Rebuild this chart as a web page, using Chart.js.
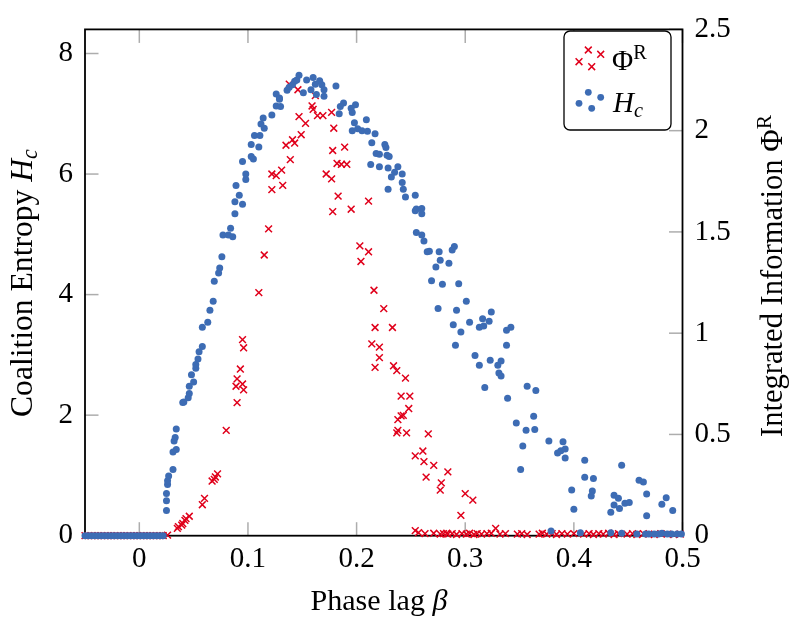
<!DOCTYPE html>
<html><head><meta charset="utf-8">
<script src="https://cdn.jsdelivr.net/npm/chart.js@4"></script>
<style>html,body{margin:0;padding:0;background:#fff}#wrap{width:800px;height:630px}</style>
</head><body><div id="wrap"><canvas id="c" width="800" height="630"></canvas></div>
<script>
// ---------- data ----------
const xTicks = [0, 0.1, 0.2, 0.3, 0.4, 0.5];
const hcTicks = [0, 2, 4, 6, 8];
const phiTicks = [0, 0.5, 1, 1.5, 2, 2.5];

// Coalition entropy H_c  [beta, value]
const hcPoints = [
 [-0.05,0],[-0.047,0],[-0.044,0],[-0.041,0],[-0.038,0],[-0.035,0],[-0.032,0],[-0.029,0],[-0.026,0],[-0.023,0],
 [-0.02,0],[-0.017,0],[-0.014,0],[-0.011,0],[-0.008,0],[-0.005,0],[-0.002,0],[0.001,0],[0.004,0],[0.007,0],
 [0.01,0],[0.013,0],[0.016,0],[0.019,0],[0.022,0],
 [0.025,0.42],[0.025,0.58],[0.025,0.70],[0.026,0.85],[0.026,0.91],[0.027,0.99],[0.031,1.10],[0.031,1.39],
 [0.034,1.43],[0.032,1.57],[0.033,1.63],[0.034,1.77],[0.040,2.21],[0.041,2.22],[0.045,2.29],[0.046,2.36],
 [0.046,2.48],[0.050,2.55],[0.048,2.67],[0.052,2.78],[0.052,2.84],[0.054,2.93],[0.055,3.05],[0.058,3.14],
 [0.058,3.46],[0.063,3.54],[0.065,3.74],[0.068,3.89],[0.069,4.22],[0.073,4.36],[0.074,4.44],[0.076,4.63],
 [0.077,4.99],[0.082,4.99],[0.086,4.96],[0.084,5.10],[0.088,5.34],[0.095,5.50],[0.088,5.54],[0.092,5.65],
 [0.089,5.81],[0.098,5.91],[0.098,6.00],[0.095,6.21],[0.105,6.25],[0.103,6.29],[0.110,6.45],[0.103,6.49],
 [0.106,6.64],[0.111,6.64],[0.115,6.76],[0.112,6.83],[0.114,6.93],[0.122,6.98],[0.126,7.13],[0.129,7.24],
 [0.126,7.33],[0.129,7.26],[0.130,7.12],[0.136,7.39],[0.138,7.44],[0.141,7.48],[0.143,7.54],[0.145,7.56],
 [0.147,7.64],[0.151,7.35],[0.154,7.56],[0.158,7.40],[0.160,7.60],[0.162,7.49],[0.163,7.32],[0.166,7.55],
 [0.168,7.48],[0.170,7.40],[0.170,7.29],[0.181,7.46],[0.188,7.18],[0.185,7.12],[0.184,7.00],[0.199,7.15],
 [0.195,7.09],[0.196,7.02],[0.198,6.85],[0.209,6.90],[0.196,6.72],[0.201,6.75],[0.205,6.72],[0.210,6.71],
 [0.217,6.67],[0.214,6.52],[0.226,6.49],[0.227,6.44],[0.218,6.34],[0.221,6.33],[0.228,6.31],[0.230,6.29],
 [0.213,6.16],[0.221,6.12],[0.229,6.10],[0.238,6.12],[0.235,6.03],[0.242,6.00],[0.232,5.95],[0.242,5.86],
 [0.243,5.75],[0.229,5.75],[0.245,5.62],[0.254,5.65],[0.255,5.42],[0.260,5.43],[0.260,5.34],[0.254,5.39],
 [0.255,5.03],[0.260,4.99],[0.262,4.89],[0.267,4.72],[0.265,4.71],[0.276,4.71],[0.290,4.80],[0.288,4.74],
 [0.277,4.57],[0.285,4.52],[0.273,4.46],[0.269,4.23],[0.279,4.17],[0.294,4.18],[0.301,3.89],[0.275,3.77],
 [0.292,3.74],[0.304,3.54],[0.289,3.50],[0.296,3.38],[0.313,3.46],[0.316,3.60],[0.324,3.71],[0.322,3.56],
 [0.317,3.48],[0.291,3.16],[0.309,2.99],[0.313,2.83],[0.342,3.46],[0.338,3.41],[0.338,3.16],[0.323,2.91],
 [0.333,2.90],[0.330,2.83],[0.331,2.70],[0.333,2.65],[0.318,2.46],[0.357,2.48],[0.365,2.41],[0.339,2.28],
 [0.363,1.98],[0.347,1.87],[0.356,1.75],[0.364,1.76],[0.353,1.49],[0.351,1.10],[0.377,1.57],[0.390,1.56],
 [0.385,1.37],[0.388,1.41],[0.392,1.44],[0.392,1.29],[0.410,1.25],[0.398,0.76],[0.400,0.44],[0.410,0.97],
 [0.418,0.95],[0.417,0.74],[0.416,0.66],[0.444,1.17],[0.437,0.67],[0.441,0.62],[0.437,0.51],[0.434,0.39],
 [0.442,0.45],[0.447,0.54],[0.451,0.55],[0.460,0.92],[0.464,0.89],[0.467,0.69],[0.467,0.33],[0.481,0.52],
 [0.485,0.63],[0.491,0.42],
 [0.379,0.08],[0.406,0.05],[0.434,0.05],[0.444,0.04],[0.458,0.03],[0.466,0.03],[0.469,0.03],[0.474,0.03],
 [0.478,0.03],[0.481,0.04],[0.486,0.03],[0.490,0.03],[0.495,0.03],[0.499,0.03]
];

// Integrated information Phi^R  [beta, value]
const phiPoints = [
 [-0.05,0],[-0.047,0],[-0.044,0],[-0.041,0],[-0.038,0],[-0.035,0],[-0.032,0],[-0.029,0],[-0.026,0],[-0.023,0],
 [-0.02,0],[-0.017,0],[-0.014,0],[-0.011,0],[-0.008,0],[-0.005,0],[-0.002,0],[0.001,0],[0.004,0],[0.007,0],
 [0.01,0],[0.013,0],[0.016,0],[0.019,0],[0.022,0],
 [0.026,0.003],[0.035,0.036],[0.036,0.045],[0.039,0.052],[0.040,0.060],[0.042,0.076],[0.043,0.084],[0.046,0.096],
 [0.058,0.153],[0.060,0.184],[0.067,0.270],[0.069,0.278],[0.070,0.290],[0.072,0.305],[0.080,0.520],
 [0.090,0.657],[0.089,0.738],[0.096,0.720],[0.095,0.749],[0.090,0.774],[0.093,0.823],[0.096,0.928],[0.095,0.968],
 [0.110,1.200],[0.115,1.386],[0.119,1.515],[0.122,1.786],[0.126,1.778],[0.122,1.709],[0.131,1.805],[0.132,1.730],
 [0.135,1.928],[0.139,1.857],[0.141,1.955],[0.143,1.939],[0.149,1.980],[0.153,2.036],[0.147,2.069],[0.138,2.230],
 [0.146,2.202],[0.159,2.122],[0.160,2.105],[0.162,2.173],[0.164,2.074],[0.169,2.074],[0.177,2.090],[0.179,2.012],
 [0.189,1.919],[0.178,1.902],[0.182,1.838],[0.186,1.834],[0.191,1.834],[0.172,1.786],[0.177,1.762],[0.183,1.677],
 [0.211,1.652],[0.195,1.612],[0.178,1.600],[0.203,1.431],[0.211,1.402],[0.204,1.354],[0.216,1.212],[0.225,1.121],
 [0.217,1.028],[0.233,1.028],[0.214,0.947],[0.221,0.931],[0.221,0.879],[0.217,0.831],[0.234,0.839],[0.237,0.815],
 [0.245,0.778],[0.241,0.689],[0.249,0.689],[0.248,0.628],[0.241,0.592],[0.243,0.594],[0.238,0.573],[0.238,0.520],
 [0.237,0.508],[0.246,0.508],[0.266,0.503],[0.261,0.418],[0.254,0.394],[0.262,0.366],[0.271,0.347],[0.284,0.315],
 [0.264,0.289],[0.278,0.261],[0.277,0.225],[0.300,0.208],[0.307,0.176],[0.296,0.100],
 [0.254,0.025],[0.257,0.015],[0.263,0.010],[0.271,0.012],[0.277,0.008],[0.280,0.010],[0.283,0.012],[0.284,0.008],
 [0.288,0.010],[0.292,0.006],[0.297,0.010],[0.301,0.008],[0.304,0.012],[0.308,0.006],[0.311,0.010],[0.315,0.008],
 [0.320,0.010],[0.324,0.012],[0.328,0.036],[0.332,0.008],[0.337,0.010],[0.348,0.008],[0.352,0.010],[0.357,0.006],
 [0.368,0.008],[0.371,0.012],[0.375,0.008],[0.380,0.010],[0.384,0.006],[0.389,0.010],[0.394,0.008],[0.400,0.010],
 [0.409,0.008],[0.414,0.010],[0.418,0.006],[0.423,0.010],[0.427,0.008],[0.432,0.012],[0.437,0.006],[0.441,0.010],
 [0.449,0.008],[0.454,0.010],[0.458,0.006],[0.464,0.010],[0.469,0.008],[0.474,0.006],[0.480,0.010],[0.486,0.008],
 [0.492,0.006],[0.498,0.008]
];

// ---------- style ----------
const BLUE = '#3D6CB4';
const RED = '#E0001B';
const FONT = '"Liberation Serif", "Times New Roman", serif';
const FS = 29;

function segWidth(ctx, segs, size) {
  let w = 0;
  segs.forEach(s => {
    const fs = (s.sub || s.sup) ? size * 0.7 : size;
    ctx.font = (s.it ? 'italic ' : '') + fs + 'px ' + FONT;
    w += ctx.measureText(s.t).width;
  });
  return w;
}
function drawSegs(ctx, segs, x, y, size) {
  let cx = x;
  ctx.textBaseline = 'alphabetic';
  ctx.textAlign = 'left';
  segs.forEach(s => {
    const fs = (s.sub || s.sup) ? size * 0.7 : size;
    ctx.font = (s.it ? 'italic ' : '') + fs + 'px ' + FONT;
    const dy = s.sub ? size * 0.18 : (s.sup ? -size * 0.36 : 0);
    ctx.fillText(s.t, cx, y + dy);
    cx += ctx.measureText(s.t).width;
  });
}
function fitSize(ctx, segs, target) {
  return FS * target / segWidth(ctx, segs, FS);
}

const decor = {
  id: 'decor',
  beforeDatasetsDraw(chart) {
    const { ctx, chartArea: a, scales } = chart;
    ctx.save();
    const TL = 13.5;
    ctx.strokeStyle = '#ADADAD';
    ctx.lineWidth = 1.5;
    const ln = (x1, y1, x2, y2) => { ctx.beginPath(); ctx.moveTo(x1, y1); ctx.lineTo(x2, y2); ctx.stroke(); };
    xTicks.forEach(v => { const p = scales.x.getPixelForValue(v); ln(p, a.bottom, p, a.bottom - TL); ln(p, a.top, p, a.top + TL); });
    hcTicks.forEach(v => { const p = scales.yL.getPixelForValue(v); ln(a.left, p, a.left + TL, p); });
    phiTicks.forEach(v => { const p = scales.yR.getPixelForValue(v); ln(a.right, p, a.right - TL, p); });
    ctx.strokeStyle = '#000';
    ctx.lineWidth = 1.8;
    ctx.strokeRect(a.left, a.top, a.right - a.left, a.bottom - a.top);
    ctx.restore();
  },
  afterDraw(chart) {
    const { ctx } = chart;
    ctx.save();
    ctx.fillStyle = '#000';
    // x title
    const xs = [{ t: 'Phase lag ' }, { t: 'β', it: true }];
    drawSegs(ctx, xs, 310.5, 610, fitSize(ctx, xs, 137));
    // left title
    const ls = [{ t: 'Coalition Entropy ' }, { t: 'H', it: true }, { t: 'c', it: true, sub: true }];
    ctx.save(); ctx.translate(31.5, 417); ctx.rotate(-Math.PI / 2);
    drawSegs(ctx, ls, 0, 0, fitSize(ctx, ls, 268)); ctx.restore();
    // right title
    const rs = [{ t: 'Integrated Information ' }, { t: 'Φ' }, { t: 'R', sup: true }];
    ctx.save(); ctx.translate(782, 437); ctx.rotate(-Math.PI / 2);
    drawSegs(ctx, rs, 0, 0, fitSize(ctx, rs, 322)); ctx.restore();

    // legend
    const bx = 564, by = 31, bw = 107, bh = 99, r = 6;
    ctx.beginPath();
    ctx.moveTo(bx + r, by); ctx.lineTo(bx + bw - r, by); ctx.arcTo(bx + bw, by, bx + bw, by + r, r);
    ctx.lineTo(bx + bw, by + bh - r); ctx.arcTo(bx + bw, by + bh, bx + bw - r, by + bh, r);
    ctx.lineTo(bx + r, by + bh); ctx.arcTo(bx, by + bh, bx, by + bh - r, r);
    ctx.lineTo(bx, by + r); ctx.arcTo(bx, by, bx + r, by, r); ctx.closePath();
    ctx.fillStyle = '#fff'; ctx.fill();
    ctx.strokeStyle = '#000'; ctx.lineWidth = 1.3; ctx.stroke();
    // crosses
    ctx.strokeStyle = RED; ctx.lineWidth = 1.5;
    [[579, 61.7], [588.3, 50], [591.7, 66.7], [600.7, 54.3]].forEach(([x, y]) => {
      const d = 3.4; ctx.beginPath(); ctx.moveTo(x - d, y - d); ctx.lineTo(x + d, y + d);
      ctx.moveTo(x - d, y + d); ctx.lineTo(x + d, y - d); ctx.stroke();
    });
    ctx.fillStyle = BLUE;
    [[579, 103.3], [588.3, 92.3], [591.7, 108.3], [600.7, 97.3]].forEach(([x, y]) => {
      ctx.beginPath(); ctx.arc(x, y, 3.4, 0, Math.PI * 2); ctx.fill();
    });
    ctx.fillStyle = '#000';
    drawSegs(ctx, [{ t: 'Φ' }, { t: 'R', sup: true }], 612, 69.5, FS);
    drawSegs(ctx, [{ t: 'H', it: true }, { t: 'c', it: true, sub: true }], 613, 111.7, FS);
    ctx.restore();
  }
};

const tickFont = { family: FONT, size: FS };
new Chart(document.getElementById('c'), {
  type: 'scatter',
  data: {
    datasets: [
      { label: 'ΦR', data: phiPoints.map(p => ({ x: p[0], y: p[1] })), yAxisID: 'yR',
        pointStyle: 'crossRot', pointRadius: 4.8, borderColor: RED, backgroundColor: RED, borderWidth: 1.5,
        order: 2, clip: false },
      { label: 'Hc', data: hcPoints.map(p => ({ x: p[0], y: p[1] })), yAxisID: 'yL',
        pointStyle: 'circle', pointRadius: 3.5, backgroundColor: BLUE, borderColor: BLUE, borderWidth: 0,
        order: 1, clip: false }
    ]
  },
  options: {
    responsive: false, animation: false, devicePixelRatio: 1,
    layout: { padding: { top: 20.4, left: 0, right: 0, bottom: 0 } },
    plugins: { legend: { display: false }, tooltip: { enabled: false } },
    scales: {
      x: { type: 'linear', position: 'bottom', min: -0.05, max: 0.5,
        grid: { display: false, drawTicks: false }, border: { display: false },
        afterBuildTicks: s => { s.ticks = xTicks.map(v => ({ value: v })); },
        afterFit: s => { s.height = 630 - 535.7; },
        ticks: { font: tickFont, color: '#000', padding: 6, maxRotation: 0, autoSkip: false, callback: v => String(v) } },
      yL: { type: 'linear', position: 'left', min: 0, max: 8.4,
        grid: { display: false, drawTicks: false }, border: { display: false },
        afterBuildTicks: s => { s.ticks = hcTicks.map(v => ({ value: v })); },
        afterFit: s => { s.width = 85; },
        ticks: { font: tickFont, color: '#000', padding: 12, autoSkip: false, callback: v => String(v) } },
      yR: { type: 'linear', position: 'right', min: 0, max: 2.5,
        grid: { display: false, drawTicks: false }, border: { display: false },
        afterBuildTicks: s => { s.ticks = phiTicks.map(v => ({ value: v })); },
        afterFit: s => { s.width = 117.5; },
        ticks: { font: tickFont, color: '#000', padding: 12, autoSkip: false, callback: v => String(v) } }
    }
  },
  plugins: [decor]
});
</script></body></html>
